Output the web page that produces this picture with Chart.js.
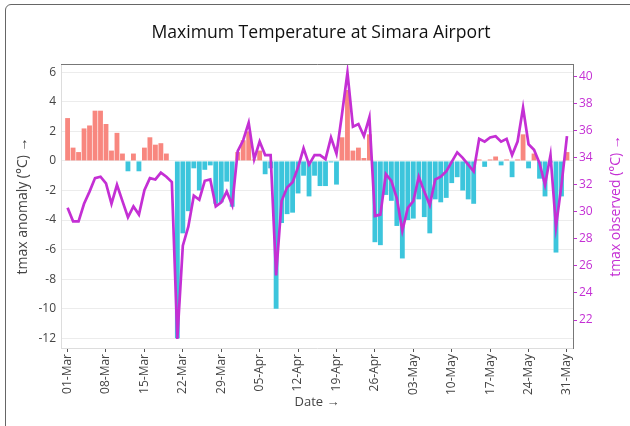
<!DOCTYPE html>
<html>
<head>
<meta charset="utf-8">
<script src="https://cdn.jsdelivr.net/npm/chart.js@4.4.1/dist/chart.umd.min.js"></script>
<style>
  html, body { margin: 0; padding: 0; background: #fff; overflow: hidden; }
  #card {
    position: absolute; left: 5px; top: 4px; width: 700px; height: 600px;
    border: 1px solid #666; border-radius: 6px;
  }
  #wrap { position: absolute; left: 0; top: 0; width: 630px; height: 426px; }
</style>
</head>
<body>
<div id="card"></div>
<div id="wrap"><canvas id="chart" width="630" height="426"></canvas></div>
<script>
// dates 01-Mar .. 31-May
const dates = [
  "01-Mar","02-Mar","03-Mar","04-Mar","05-Mar","06-Mar","07-Mar","08-Mar","09-Mar","10-Mar",
  "11-Mar","12-Mar","13-Mar","14-Mar","15-Mar","16-Mar","17-Mar","18-Mar","19-Mar","20-Mar",
  "21-Mar","22-Mar","23-Mar","24-Mar","25-Mar","26-Mar","27-Mar","28-Mar","29-Mar","30-Mar",
  "31-Mar","01-Apr","02-Apr","03-Apr","04-Apr","05-Apr","06-Apr","07-Apr","08-Apr","09-Apr",
  "10-Apr","11-Apr","12-Apr","13-Apr","14-Apr","15-Apr","16-Apr","17-Apr","18-Apr","19-Apr",
  "20-Apr","21-Apr","22-Apr","23-Apr","24-Apr","25-Apr","26-Apr","27-Apr","28-Apr","29-Apr",
  "30-Apr","01-May","02-May","03-May","04-May","05-May","06-May","07-May","08-May","09-May",
  "10-May","11-May","12-May","13-May","14-May","15-May","16-May","17-May","18-May","19-May",
  "20-May","21-May","22-May","23-May","24-May","25-May","26-May","27-May","28-May","29-May",
  "30-May","31-May"
];

// tmax anomaly (°C)
const anomaly = [
  2.9, 0.9, 0.6, 2.2, 2.4, 3.4, 3.4, 2.5, 0.7, 1.9,
  0.5, -0.7, 0.5, -0.7, 0.9, 1.6, 1.1, 1.2, 0.5, 0.0,
  -12.0, -4.9, -3.4, -0.5, -2.0, -0.6, -0.3, -2.9, -2.8, -1.4,
  -3.1, 0.6, 1.4, 2.0, 0.1, 0.7, -0.9, -0.5, -10.0, -4.2,
  -3.6, -3.5, -2.2, -1.0, -2.4, -1.0, -1.7, -1.7, -0.1, -1.6,
  1.6, 4.8, 0.7, 0.9, 0.2, 1.8, -5.5, -5.7, -2.3, -2.7,
  -4.4, -6.6, -4.0, -3.9, -2.6, -3.8, -4.9, -2.6, -2.8, -2.5,
  -1.5, -1.1, -2.0, -2.6, -2.9, 0.1, -0.4, 0.1, 0.3, -0.3,
  0.1, -1.1, 0.1, 1.8, -0.5, 0.5, -1.2, -2.4, -0.1, -6.2,
  -2.4, 0.6
];

// tmax observed (°C)
const observed = [
  30.3, 29.3, 29.3, 30.6, 31.5, 32.5, 32.6, 32.1, 30.6, 32.0,
  30.8, 29.6, 30.4, 29.8, 31.6, 32.5, 32.4, 32.9, 32.6, 32.2,
  20.6, 27.5, 28.9, 31.2, 30.9, 32.3, 32.4, 30.4, 30.7, 31.5,
  30.5, 34.5, 35.3, 36.6, 33.9, 35.2, 34.2, 34.2, 25.3, 30.8,
  31.8, 32.2, 33.3, 34.7, 33.5, 34.2, 34.2, 33.9, 35.5, 34.3,
  37.2, 40.3, 36.3, 36.5, 35.6, 37.0, 29.7, 29.8, 32.8, 32.3,
  31.0, 28.6, 30.3, 30.8, 32.6, 31.5, 30.5, 32.4, 32.6, 33.0,
  33.7, 34.4, 34.0, 33.5, 33.0, 35.4, 35.2, 35.5, 35.6, 35.2,
  35.4, 34.2, 35.2, 37.7, 35.0, 34.6, 33.6, 32.0, 34.2, 28.9,
  32.0, 35.6
];

const xTickDays = [0, 7, 14, 21, 28, 35, 42, 49, 56, 63, 70, 77, 84, 91];
const leftTicks = [6, 4, 2, 0, -2, -4, -6, -8, -10, -12];
const rightTicks = [22, 24, 26, 28, 30, 32, 34, 36, 38, 40];

const pink = "#f8877f";
const cyan = "#3cc5dc";
const magenta = "#c42fd4";
const font = '"Open Sans", "Noto Sans", sans-serif';

// title, top border of the plot and the right axis title (reads bottom to top)
const framePlugin = {
  id: "frame",
  afterDraw(chart) {
    const { ctx, chartArea: a } = chart;
    ctx.save();
    ctx.strokeStyle = "#777";
    ctx.lineWidth = 1;
    ctx.beginPath();
    ctx.moveTo(a.left, a.top + 0.5);
    ctx.lineTo(a.right + 0.5, a.top + 0.5);
    ctx.stroke();

    ctx.fillStyle = "#111";
    ctx.font = "17.6px " + font;
    ctx.textAlign = "center";
    ctx.textBaseline = "middle";
    ctx.fillText("Maximum Temperature at Simara Airport", 321, 33);

    ctx.translate(616, (a.top + a.bottom) / 2);
    ctx.rotate(-Math.PI / 2);
    ctx.fillStyle = magenta;
    ctx.font = "14px " + font;
    ctx.fillText("tmax observed (°C) →", 0, 0);
    ctx.restore();
  },
};

const data = {
  datasets: [
    {
      type: "line",
      label: "tmax observed",
      data: observed.map((v, i) => ({ x: i, y: v })),
      yAxisID: "y1",
      borderColor: magenta,
      borderWidth: 2.7,
      pointRadius: 0,
      tension: 0,
      order: 0,
    },
    {
      type: "bar",
      label: "tmax anomaly",
      data: anomaly.map((v, i) => ({ x: i, y: v })),
      yAxisID: "y",
      backgroundColor: (c) => (anomaly[c.dataIndex] >= 0 ? pink : cyan),
      categoryPercentage: 1,
      barPercentage: 0.88,
      order: 1,
    },
  ],
};

const config = {
  data: data,
  options: {
    responsive: false,
    animation: false,
    layout: { padding: { top: 64 } },
    plugins: {
      legend: { display: false },
      tooltip: { enabled: false },
      title: { display: false },
    },
    scales: {
      x: {
        type: "linear",
        offset: false,
        min: -1.2,
        max: 92.1,
        afterBuildTicks: (s) => { s.ticks = xTickDays.map((v) => ({ value: v })); },
        afterFit: (s) => { s.height = 78; },
        ticks: {
          autoSkip: false,
          minRotation: 90,
          maxRotation: 90,
          padding: 2,
          color: "#444",
          font: { size: 12, family: font },
          callback: (v) => dates[v],
        },
        grid: { offset: false, drawOnChartArea: false, drawTicks: true, tickLength: 4, color: "#555" },
        border: { color: "#ddd" },
        title: {
          display: true,
          text: "Date →",
          color: "#444",
          font: { size: 13, family: font },
          padding: { top: 0, bottom: 16 },
        },
      },
      y: {
        position: "left",
        min: -12.66,
        max: 6.56,
        afterBuildTicks: (s) => { s.ticks = leftTicks.map((v) => ({ value: v })); },
        afterFit: (s) => { s.width = 61; },
        ticks: { color: "#444", font: { size: 12, family: font }, padding: 5 },
        grid: { color: "#ececec", drawTicks: false },
        border: { color: "#ddd" },
        title: {
          display: true,
          text: "tmax anomaly (°C) →",
          color: "#444",
          font: { size: 14, family: font },
          padding: { top: 15, bottom: 0 },
        },
      },
      y1: {
        position: "right",
        min: 19.93,
        max: 40.94,
        afterBuildTicks: (s) => { s.ticks = rightTicks.map((v) => ({ value: v })); },
        afterFit: (s) => { s.width = 57; },
        ticks: { color: magenta, font: { size: 12, family: font }, padding: 2 },
        grid: { drawOnChartArea: false, drawTicks: true, tickLength: 4, color: magenta },
        border: { color: "#777" },
      },
    },
  },
  plugins: [framePlugin],
};

new Chart(document.getElementById("chart"), config);
</script>
</body>
</html>
